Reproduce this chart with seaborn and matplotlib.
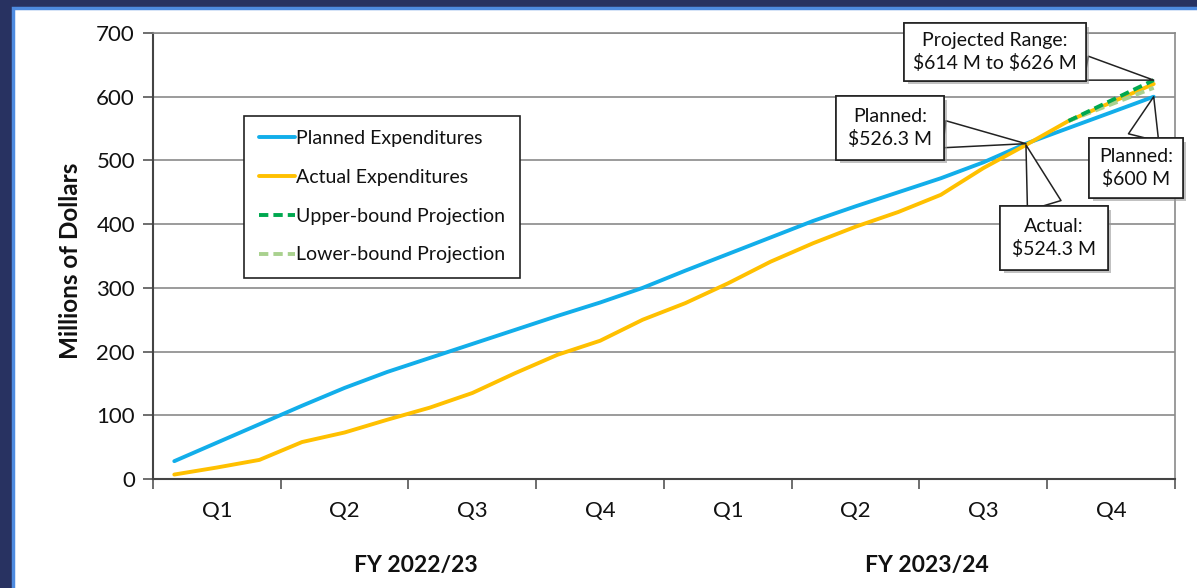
import matplotlib
matplotlib.use("Agg")
import matplotlib.pyplot as plt
import matplotlib.patheffects as pe
from matplotlib.patches import Rectangle
from matplotlib.lines import Line2D
import pandas as pd
import seaborn as sns

# ---------------- data ----------------
months = list(range(1, 25))
planned = [28, 57, 86, 115, 143, 168, 190, 212, 234, 256, 277, 300,
           327, 353, 379, 405, 428, 450, 472, 497, 526.3, 550.9, 575.4, 600]
actual = [7, 18, 30, 58, 73, 93, 112, 135, 166, 195, 217, 250,
          276, 307, 341, 370, 396, 419, 446, 488, 524.3, 562, 591, 620]
proj_months = [22, 23, 24]
upper = [562, 594, 626]
lower = [562, 588, 614]
quarter_labels = ["Q1", "Q2", "Q3", "Q4", "Q1", "Q2", "Q3", "Q4"]
fy_labels = ["FY 2022/23", "FY 2023/24"]
y_ticks = [0, 100, 200, 300, 400, 500, 600, 700]
series_names = ["Planned Expenditures", "Actual Expenditures",
                "Upper-bound Projection", "Lower-bound Projection"]

# ---------------- style ----------------
sns.set_theme(style="white")
plt.rcParams["font.family"] = ["Lato", "DejaVu Sans"]

BLUE = "#12AEEA"
GOLD = "#FFC000"
DGREEN = "#00A84F"
LGREEN = "#A9D18E"

W, H = 1197, 588
fig = plt.figure(figsize=(W / 100, H / 100), dpi=100, facecolor="#283261")
# white panel with light blue border
panel = Rectangle((13 / W, -0.01), 1 - 13 / W + 0.01, 1 - 8 / H + 0.01,
                  transform=fig.transFigure, facecolor="white",
                  edgecolor="#4E8BE0", linewidth=2.5, zorder=-10)
fig.add_artist(panel)

ax = fig.add_axes([153 / W, (H - 479) / H, (1175 - 153) / W, (479 - 33) / H])
ax.set_facecolor("white")
ax.set_zorder(1)

df_p = pd.DataFrame({"pos": [m - 0.5 for m in months], "value": planned})
df_a = pd.DataFrame({"pos": [m - 0.5 for m in months], "value": actual})
df_u = pd.DataFrame({"pos": [m - 0.5 for m in proj_months], "value": upper})
df_l = pd.DataFrame({"pos": [m - 0.5 for m in proj_months], "value": lower})

lw = 2.8
DASH = (0, (2.4, 1.3))
sns.lineplot(data=df_p, x="pos", y="value", color=BLUE, linewidth=lw, ax=ax, zorder=3)
sns.lineplot(data=df_a, x="pos", y="value", color=GOLD, linewidth=lw, ax=ax, zorder=4)
sns.lineplot(data=df_l, x="pos", y="value", color=LGREEN, linewidth=lw, ax=ax, zorder=5)
ax.lines[-1].set_linestyle(DASH)
sns.lineplot(data=df_u, x="pos", y="value", color=DGREEN, linewidth=lw, ax=ax, zorder=6)
ax.lines[-1].set_linestyle(DASH)

ax.set_xlim(0, 24)
ax.set_ylim(0, 700)
ax.set_yticks(y_ticks)
ax.set_yticklabels([str(v) for v in y_ticks], fontsize=16, color="#111111")
ax.set_xticks(range(0, 25, 3))
ax.set_xticklabels([])
ax.set_xticks([1.5 + 3 * i for i in range(8)], minor=True)
ax.set_xticklabels(quarter_labels, minor=True, fontsize=16, color="#111111")
ax.tick_params(axis="x", which="major", length=7, width=1.2, color="#555555",
               direction="out", bottom=True)
ax.tick_params(axis="x", which="minor", length=0, pad=16, bottom=True)
ax.tick_params(axis="y", which="major", length=7, width=1.2, color="#555555",
               direction="out", left=True, pad=6)

ax.grid(axis="y", color="#8a8a8a", linewidth=1.2)
ax.grid(axis="x", visible=False)
ax.set_axisbelow(True)
for side in ["top", "right"]:
    ax.spines[side].set_color("#8a8a8a")
    ax.spines[side].set_linewidth(1.2)
for side in ["left", "bottom"]:
    ax.spines[side].set_color("#444444")
    ax.spines[side].set_linewidth(1.5)

ax.set_xlabel("")
ax.set_ylabel("Millions of Dollars", fontsize=17.5, fontweight="bold", color="#111111")
ax.yaxis.set_label_coords(-0.069, 0.49)

for i, lab in enumerate(fy_labels):
    ax.text(6.18 + 12 * i, -0.193, lab, transform=ax.get_xaxis_transform(),
            ha="center", va="center", fontsize=16.5, fontweight="bold", color="#111111")

# legend
handles = [Line2D([], [], color=BLUE, lw=lw),
           Line2D([], [], color=GOLD, lw=lw),
           Line2D([], [], color=DGREEN, lw=lw, ls=DASH),
           Line2D([], [], color=LGREEN, lw=lw, ls=DASH)]
leg = ax.legend(handles, series_names, loc="upper left",
                bbox_to_anchor=(0.089, 0.815), borderaxespad=0,
                fontsize=14, handlelength=1.85, handletextpad=0.1,
                labelspacing=1.12, borderpad=0.75, frameon=True,
                fancybox=False, framealpha=1, edgecolor="#222222")
leg.get_frame().set_linewidth(1.2)
for t in leg.get_texts():
    t.set_color("#111111")

# callouts
def px_to_data(X, Y):
    return (X - 153) / (1022 / 24), (479 - Y) / (446 / 700)

shadow = [pe.withSimplePatchShadow(offset=(2.5, -2.5), shadow_rgbFace="#999999", alpha=0.6),
          pe.Normal()]

def callout(text, box_px, target, tw, pad=0.5):
    bx, by = px_to_data(*box_px)
    ann = ax.annotate(text, xy=target, xytext=(bx, by), textcoords="data",
                      ha="center", va="center", fontsize=14, color="#111111",
                      linespacing=1.35,
                      bbox=dict(boxstyle=f"square,pad={pad}", fc="white", ec="#222222", lw=1.2),
                      arrowprops=dict(arrowstyle=f"wedge,tail_width={tw}", fc="white",
                                      ec="#222222", lw=1.1, shrinkA=0, shrinkB=0),
                      zorder=10, annotation_clip=False)
    ann.get_bbox_patch().set_path_effects(shadow)
    return ann

callout("Projected Range:\n\\$614 M to \\$626 M", (995, 52),
        (proj_months[-1] - 0.5, upper[-1]), 1.25, pad=0.45)
callout("Planned:\n\\$526.3 M", (890, 128), (21 - 0.5, planned[20]), 1.4, pad=0.6)
callout("Actual:\n\\$524.3 M", (1054, 238), (21 - 0.5, actual[20]), 1.8, pad=0.6)
callout("Planned:\n\\$600 M", (1136, 168), (24 - 0.5, planned[23]), 1.6, pad=0.5)

fig.savefig("out.png", dpi=100, facecolor=fig.get_facecolor())
